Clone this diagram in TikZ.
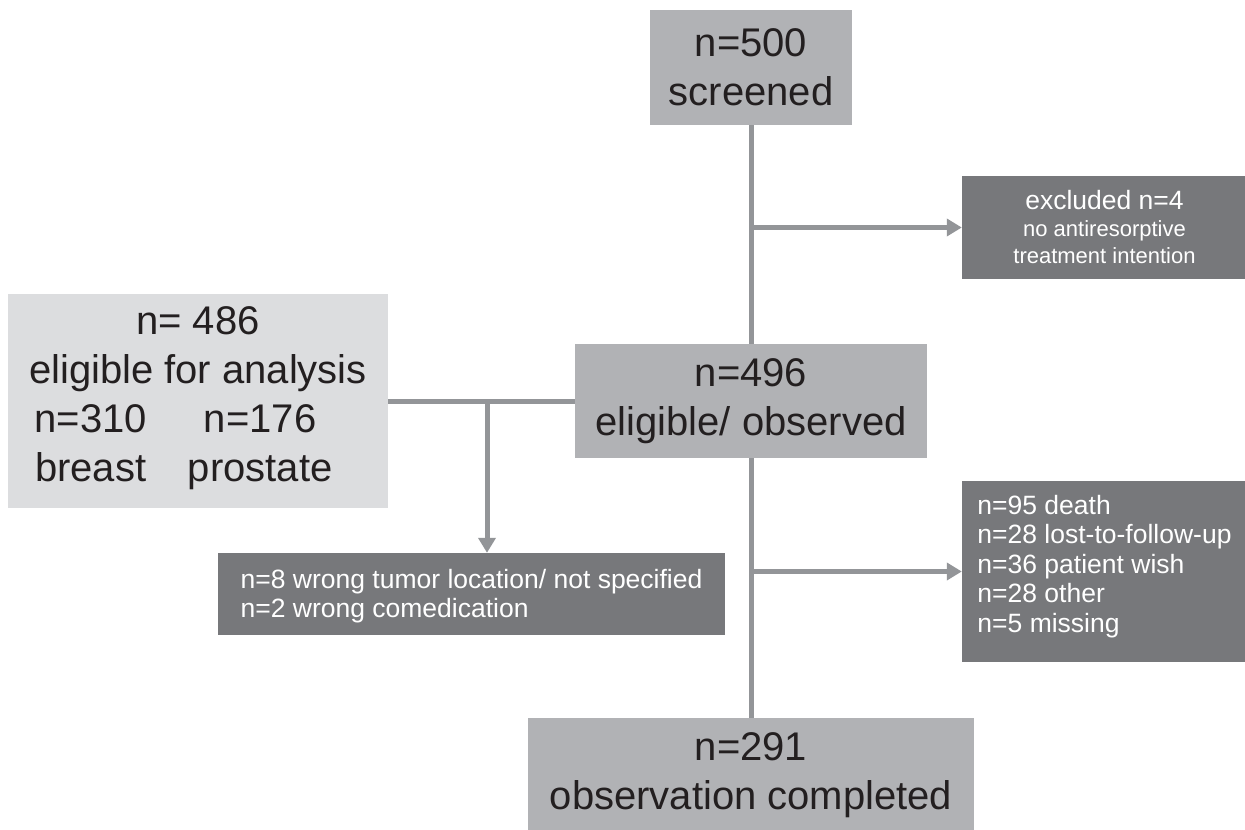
\documentclass[tikz,border=0pt]{standalone}
\usepackage{fontspec}
\setmainfont{Liberation Sans}
\usetikzlibrary{arrows.meta}
\definecolor{boxmid}{HTML}{B1B2B5}
\definecolor{boxdark}{HTML}{77787B}
\definecolor{boxlight}{HTML}{DCDDDF}
\definecolor{linegray}{HTML}{939598}
\definecolor{textdark}{HTML}{231F20}

\begin{document}
\begin{tikzpicture}[x=1pt, y=-1pt,
  >={Triangle[length=15pt,width=17pt]},
  flow/.style={draw=linegray, line width=5pt},
  midbox/.style={fill=boxmid, text=textdark, inner sep=0pt, align=center,
    font=\fontsize{40}{49}\selectfont},
  lightbox/.style={midbox, fill=boxlight},
  darkbox/.style={fill=boxdark, text=white, inner sep=0pt,
    font=\fontsize{26.5}{29.5}\selectfont}]
  \useasboundingbox (0,0) rectangle (1245,830);

  \node[midbox, minimum width=202pt, minimum height=115pt] (screened) at (751,67.5) {n=500\\screened};
  \node[midbox, minimum width=352pt, minimum height=114pt] (observed) at (751,401) {n=496\\eligible/ observed};
  \node[midbox, minimum width=446pt, minimum height=114pt] (done) at (751,775) {n=291\\observation completed};
  \node[lightbox, minimum width=380pt, minimum height=214pt] (eligible) at (198,401)
   {n= 486\\eligible for analysis\\
    \begin{tabular}[t]{@{}c@{\hspace{41pt}}c@{}}n=310&n=176\\breast&prostate\end{tabular}\hspace*{29pt}};

  \node[darkbox, align=center, minimum width=285pt, minimum height=103pt, font=\fontsize{26.5}{27}\selectfont] (excluded) at (1104.5,227.5)
   {excluded n=4\\\fontsize{22}{27}\selectfont no antiresorptive\\\fontsize{22}{27}\selectfont treatment intention};
  \node[darkbox, align=left, minimum width=507pt, minimum height=82pt, text depth=1pt] (wrong) at (471.5,594)
   {n=8 wrong tumor location/ not specified\\n=2 wrong comedication};
  \node[darkbox, align=left, minimum width=285pt, minimum height=181pt, text depth=16pt] (losses) at (1104.5,571.5)
   {n=95 death\\n=28 lost-to-follow-up\\n=36 patient wish\\n=28 other\\n=5 missing};

  \coordinate (split1) at (screened.south |- excluded.west);
  \coordinate (split2) at (screened.south |- losses.west);
  \coordinate (split3) at (487,401);

  \draw[flow] (screened.south) -- (observed.north);
  \draw[flow] (observed.south) -- (done.north);
  \draw[flow] (eligible.east) -- (observed.west);
  \draw[flow,->] (split1) -- (excluded.west);
  \draw[flow,->] (split2) -- (losses.west);
  \draw[flow,->] (split3) -- (split3 |- wrong.north);
\end{tikzpicture}
\end{document}
